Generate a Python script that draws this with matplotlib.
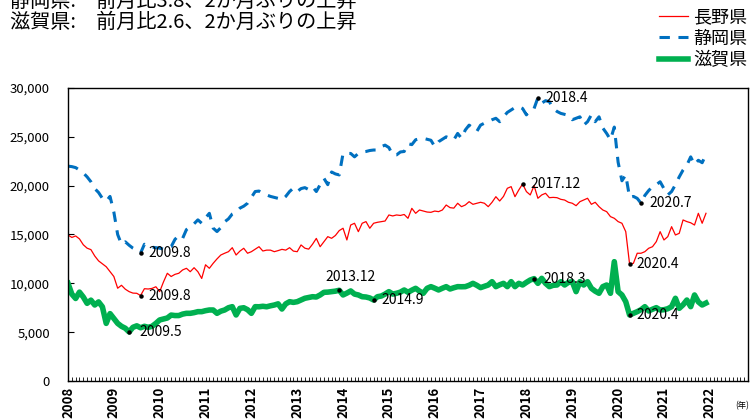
import numpy as np
import matplotlib.pyplot as plt

plt.rcParams['font.family'] = ['Noto Sans CJK JP', 'DejaVu Sans']

# monthly values, Jan 2008 - Dec 2021
nagano = [14950, 14700, 14850, 14550, 13950, 13600, 13450, 12800, 12300, 12000, 11700, 11200,
          10700, 9500, 9800, 9400, 9150, 9000, 8980, 8750, 9450, 9420, 9480, 9650,
          9150, 10150, 11030, 10700, 10920, 11030, 11370, 11540, 11190, 11600, 11190, 10500,
          11900, 11540, 12050, 12500, 12900, 13080, 13240, 13650, 12900, 13300, 13590, 13080,
          13240, 13500, 13750, 13310, 13400, 13400, 13240, 13350, 13480, 13400, 13650, 13300,
          13240, 13930, 13600, 13500, 14000, 14600, 13750, 14270, 14780, 14610, 14900, 15400,
          15640, 14440, 15970, 16150, 15290, 16150, 16320, 15640, 16150, 16250, 16320, 16380,
          17000, 16900, 17000, 16950, 17050, 16660, 17680, 17170, 17510, 17400, 17300, 17270,
          17400, 17340, 17510, 18020, 17750, 17700, 18200, 17850, 18020, 18360, 18090, 18200,
          18300, 18200, 17850, 18300, 18870, 18430, 18900, 19730, 19900, 18870, 19560, 20170,
          19390, 19050, 20000, 18710, 19050, 19220, 18770, 18800, 18770, 18600, 18530, 18300,
          18200, 17950, 18360, 18530, 18710, 18090, 18300, 17850, 17510, 17340, 16830, 16660,
          16320, 16150, 15290, 11980, 12050, 13080, 13080, 13240, 13590, 13750, 14270, 15290,
          14440, 14780, 15800, 14950, 15120, 16490, 16320, 16200, 15970, 17170, 16150, 17170]

shizuoka = [22000, 21950, 21850, 21600, 21300, 20900, 20400, 19700, 19300, 18700, 18400, 18900,
            17300, 15000, 14000, 14250, 13900, 13600, 13400, 13100, 14000, 13800, 13700, 13650,
            13600, 13500, 13600, 13750, 14500, 14900, 14600, 15500, 15800, 16100, 16500, 16150,
            16700, 17170, 15650, 15300, 15700, 16300, 16600, 17100, 17300, 17700, 17900, 18200,
            18800, 19400, 19450, 19200, 19050, 18900, 18800, 18700, 18550, 18900, 19400, 19750,
            19400, 19700, 19800, 19600, 19900, 19400, 20100, 20750, 20100, 21400, 21200, 21100,
            23300, 23300, 23300, 22950, 23300, 23450, 23500, 23600, 23650, 23650, 24000, 24150,
            23900, 23150, 23150, 23450, 23500, 24300, 24200, 24700, 24800, 24850, 24750, 24650,
            24000, 24500, 24750, 25000, 24850, 24700, 25350, 24850, 25700, 26200, 25900, 25550,
            26200, 26400, 26550, 26750, 26900, 26550, 27050, 27500, 27750, 28000, 28100, 27900,
            27250, 27750, 27900, 29000, 28450, 28700, 28600, 27900, 27600, 27400, 27300, 27200,
            26750, 26900, 27050, 26200, 26550, 27250, 26550, 27050, 25900, 25350, 24700, 26000,
            22400, 20500, 21100, 18800, 18900, 18700, 18200, 19000, 19500, 19900, 20100, 20400,
            19700, 19050, 19400, 20100, 20900, 21600, 22100, 22950, 22150, 22600, 22350, 23200]

shiga = [10000, 8900, 8450, 9100, 8600, 7950, 8280, 7780, 8100, 7600, 5900, 6900,
         6400, 5900, 5600, 5400, 5020, 5500, 5650, 5450, 5600, 5500, 5600, 5900,
         6250, 6350, 6450, 6750, 6700, 6700, 6850, 6930, 6930, 7000, 7100, 7100,
         7200, 7270, 7270, 6930, 7150, 7270, 7500, 7610, 6760, 7440, 7500, 7300,
         6930, 7610, 7600, 7650, 7600, 7700, 7780, 7900, 7370, 7900, 8120, 8050,
         8120, 8300, 8470, 8550, 8630, 8600, 8810, 9080, 9100, 9150, 9200, 9290,
         8810, 9000, 9220, 8900, 8810, 8630, 8600, 8500, 8290, 8630, 8700, 8900,
         9150, 8900, 8980, 9100, 9320, 9080, 9300, 9490, 9200, 8980, 9490, 9660,
         9500, 9320, 9500, 9660, 9420, 9550, 9660, 9650, 9660, 9800, 10000, 9800,
         9560, 9700, 9830, 10170, 9660, 9850, 10000, 9660, 10170, 9660, 10000, 9830,
         10100, 10340, 10480, 10000, 10510, 10000, 9660, 9800, 9830, 10170, 9830, 10100,
         10170, 9150, 10170, 9830, 10170, 9490, 9200, 8980, 9660, 9830, 8980, 12220,
         9150, 8810, 8120, 6760, 6930, 7100, 7300, 7610, 7170, 7350, 7510, 7270,
         7300, 7400, 7610, 8470, 7440, 7800, 8290, 7610, 8810, 8100, 7780, 7980]

years = list(range(2008, 2023))

# (series, month index, label, dx px, dy px, ha)
notes = [
    ('shizuoka', 19, '2009.8', 8, 0, 'left'),
    ('nagano', 19, '2009.8', 8, 0, 'left'),
    ('shiga', 16, '2009.5', 10, 0, 'left'),
    ('shiga', 71, '2013.12', 11, 13, 'center'),
    ('shiga', 80, '2014.9', 8, 0, 'left'),
    ('shiga', 122, '2018.3', 9, 0, 'left'),
    ('nagano', 119, '2017.12', 8, 0, 'left'),
    ('shizuoka', 123, '2018.4', 8, 0, 'left'),
    ('shizuoka', 150, '2020.7', 8, 0, 'left'),
    ('nagano', 147, '2020.4', 7, 0, 'left'),
    ('shiga', 147, '2020.4', 7, 0, 'left'),
]

series = {'nagano': nagano, 'shizuoka': shizuoka, 'shiga': shiga}

fig = plt.figure(figsize=(7.55, 4.19), dpi=100)
ax = fig.add_axes([68 / 755, 1 - 381 / 419, 680 / 755, 293 / 419])

x = np.arange(len(nagano))
ax.plot(x, nagano, color='#FF0000', lw=0.9, label='長野県')
ax.plot(x, shizuoka, color='#0070C0', lw=2.2, dashes=(3.4, 2.8), label='静岡県')
ax.plot(x, shiga, color='#00B050', lw=4.0, label='滋賀県')

for key, i, text, dx, dy, ha in notes:
    ax.plot(i, series[key][i], 'o', color='black', ms=2.2, zorder=5)
    ax.annotate(text, (i, series[key][i]), xytext=(dx * 0.72, dy * 0.72),
                textcoords='offset points', ha=ha, va='center', fontsize=10)

ax.set_xlim(0, 178)
ax.set_ylim(0, 30000)
ax.set_yticks(range(0, 30001, 5000))
ax.set_yticklabels([f'{v:,}' for v in range(0, 30001, 5000)], fontsize=9.5)
ax.set_xticks([12 * k for k in range(len(years))])
ax.set_xticklabels([str(y) for y in years], rotation=90, fontsize=9.5, fontweight='semibold')
ax.set_xticks(np.arange(0, 179), minor=True)
ax.tick_params(axis='x', which='both', direction='in', length=3, width=0.6, pad=4)
ax.tick_params(axis='y', direction='in', length=4, width=0.8, pad=13)
for s in ax.spines.values():
    s.set_linewidth(1.0)

fig.legend(loc='upper right', bbox_to_anchor=(747 / 755, 1 - 8 / 419), frameon=False,
           fontsize=13, handlelength=1.6, handletextpad=0.3, labelspacing=0.2,
           borderpad=0, borderaxespad=0)

fig.text(10 / 755, 1 - 1 / 419, '静岡県:　前月比3.8、2か月ぶりの上昇', fontsize=14.5, va='center')
fig.text(10 / 755, 1 - 22 / 419, '滋賀県:　前月比2.6、2か月ぶりの上昇', fontsize=14.5, va='center')
fig.text(742 / 755, 1 - 406 / 419, '(年)', fontsize=6, ha='center', va='center')

plt.savefig('out.png', dpi=100)
